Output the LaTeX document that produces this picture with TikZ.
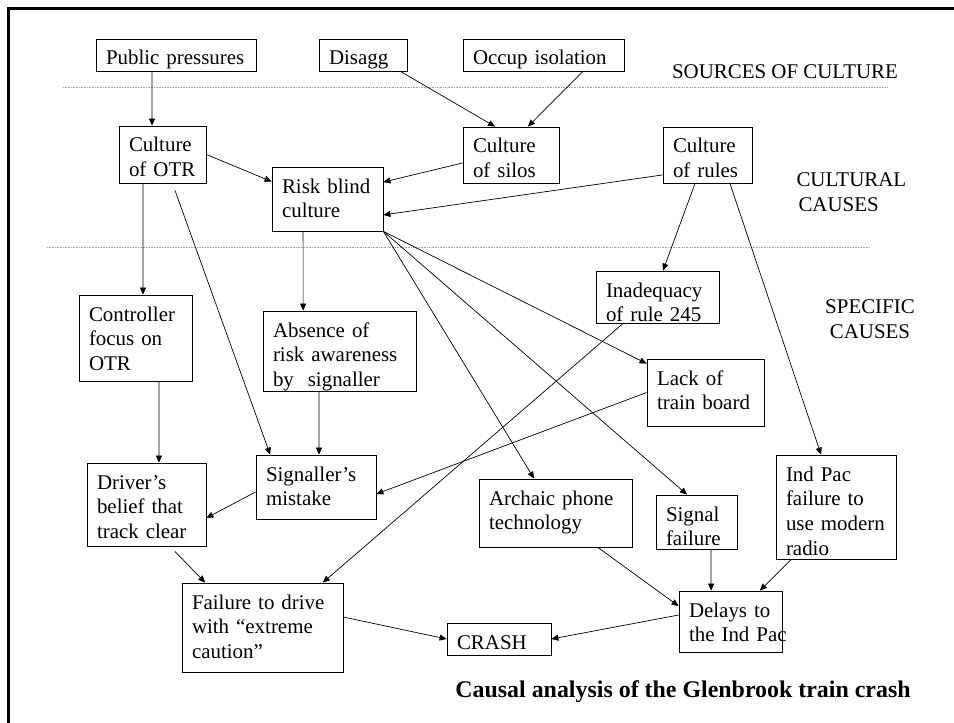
\documentclass[tikz,border=0pt]{standalone}
\usepackage{fontspec}
\setmainfont{Liberation Serif}
\usetikzlibrary{arrows.meta}

\begin{document}
\begin{tikzpicture}[x=1bp, y=-1bp,
		causebox/.style={draw, line width=0.8bp, align=left, inner xsep=10bp, inner ysep=0pt,
			text height=26bp, font=\fontsize{21}{25}\selectfont},
		cause/.code 2 args={%
			\pgfmathsetlengthmacro\causewd{#1bp-20bp}%
			\pgfmathsetlengthmacro\causedp{#2bp-26bp}%
			\tikzset{causebox, text width=\causewd, text depth=\causedp}},
		arr/.style={line width=0.7bp, -{Triangle[length=7bp,width=6bp]}},
		band/.style={gray!70, densely dotted, line width=0.6bp},
		heading/.style={font=\fontsize{21}{25}\selectfont}]
	\useasboundingbox (0,0) rectangle (954,723);
	% frame
	\draw[line width=2.6bp] (8.5,723) -- (8.5,8.5) -- (954,8.5);
	% band separators
	\draw[band] (63,87) -- (887,87);
	\draw[band] (47,247) -- (870,247);
	% band labels
	\node[heading] (srclab) at (785,72) {SOURCES OF CULTURE};
	\node[heading, align=left, anchor=west] (cultlab) at (793,192) {CULTURAL\\\hspace*{2bp}CAUSES};
	\node[heading, align=center] (speclab) at (870,319) {SPECIFIC\\CAUSES};

	% sources of culture
	\node[cause={160}{32}] (pub) at (176,55) {Public pressures};
	\node[cause={88}{32}] (disagg) at (363,55) {Disagg};
	\node[cause={161}{32}] (occup) at (543.5,55) {Occup isolation};
	% cultural causes
	\node[cause={87}{57}] (otr) at (162.5,154.5) {Culture\\of OTR};
	\node[cause={96}{56}] (silos) at (511,155) {Culture\\of silos};
	\node[cause={89}{56}] (rules) at (707.5,155) {Culture\\of rules};
	\node[cause={111}{64}] (riskblind) at (327.5,199) {Risk blind\\culture};
	% specific causes
	\node[cause={113}{86}] (controller) at (135.5,338) {Controller\\focus on\\OTR};
	\node[cause={153}{80}] (absence) at (339.5,351) {Absence of\\risk awareness\\by~ signaller};
	\node[cause={123}{52}] (inadequacy) at (657.5,297) {Inadequacy\\of rule 245};
	\node[cause={117}{67}] (trainboard) at (705.5,392.5) {Lack of\\train board};
	\node[cause={119}{83}] (belief) at (146.5,504.5) {Driver’s\\belief that\\track clear};
	\node[cause={120}{64}] (mistake) at (316,487) {Signaller’s\\mistake};
	\node[cause={153}{68}] (phone) at (555.5,513) {Archaic phone\\technology};
	\node[cause={81}{54}] (signal) at (696.5,522) {Signal\\failure};
	\node[cause={120}{104}] (radio) at (836,507) {Ind Pac\\failure to\\use modern\\radio};
	\node[cause={161}{89}] (caution) at (262.5,627.5) {Failure to drive\\with “extreme\\caution”};
	\node[cause={103}{61}] (delays) at (730.5,621.5) {Delays to\\the~Ind~Pac};
	\node[cause={104}{32}] (crash) at (499,639) {CRASH};

	% caption
	\node[heading, font=\fontsize{24}{28}\selectfont\bfseries] (caption) at (683,692) {Causal analysis of the Glenbrook train crash};

	% sources -> cultural causes
	\draw[arr] ([xshift=-24]pub.south) -- ([xshift=-10.5]otr.north);
	\draw[arr] ([xshift=-7]disagg.south east) -- ([xshift=-16]silos.north);
	\draw[arr] ([xshift=39.5]occup.south) -- ([xshift=17]silos.north);
	% cultural causes
	\draw[arr] (otr.east) -- ([yshift=-15]riskblind.north west);
	\draw[arr] ([yshift=-8]silos.west) -- ([yshift=17]riskblind.east);
	\draw[arr] ([yshift=-20]rules.west) -- ([yshift=-16]riskblind.east);
	% cultural -> specific causes
	\draw[arr] ([xshift=-19.5]otr.south) -- ([xshift=7.5]controller.north);
	\draw[arr] ([xshift=12.5,yshift=-7]otr.south) -- ([xshift=-46]mistake.north);
	\draw[arr] ([xshift=-24.5]riskblind.south) -- ([xshift=-36.5]absence.north);
	\draw[arr] (riskblind.south east) -- ([xshift=-21.5]phone.north);
	\draw[arr] (riskblind.south east) -- ([xshift=-9.5]signal.north);
	\draw[arr] (riskblind.south east) -- ([yshift=-5]trainboard.north west);
	\draw[arr] ([xshift=-12.5]rules.south) -- ([xshift=5.5]inadequacy.north);
	\draw[arr] ([xshift=22.5]rules.south) -- ([xshift=-15]radio.north);
	% specific causes
	\draw[arr] ([xshift=23.5]controller.south) -- ([xshift=12.5]belief.north);
	\draw[arr] ([xshift=-20.5]absence.south) -- ([xshift=3]mistake.north);
	\draw[arr] (trainboard.west) -- ([yshift=-7]mistake.east);
	\draw[arr] ([yshift=-5]mistake.west) -- ([yshift=-13.5]belief.east);
	\draw[arr] ([xshift=-34.5]inadequacy.south) -- ([xshift=60.5]caution.north);
	\draw[arr] ([xshift=28.5,yshift=-5]belief.south) -- ([xshift=-57.5]caution.north);
	% towards the crash
	\draw[arr] ([xshift=42.5]phone.south) -- ([yshift=15.5]delays.west);
	\draw[arr] ([xshift=14.5]signal.south) -- ([xshift=-19.5]delays.north);
	\draw[arr] ([xshift=-45]radio.south) -- ([xshift=29.5]delays.north);
	\draw[arr] ([yshift=10.5]caution.east) -- (crash.west);
	\draw[arr] ([yshift=6.5]delays.west) -- (crash.east);
\end{tikzpicture}
\end{document}
